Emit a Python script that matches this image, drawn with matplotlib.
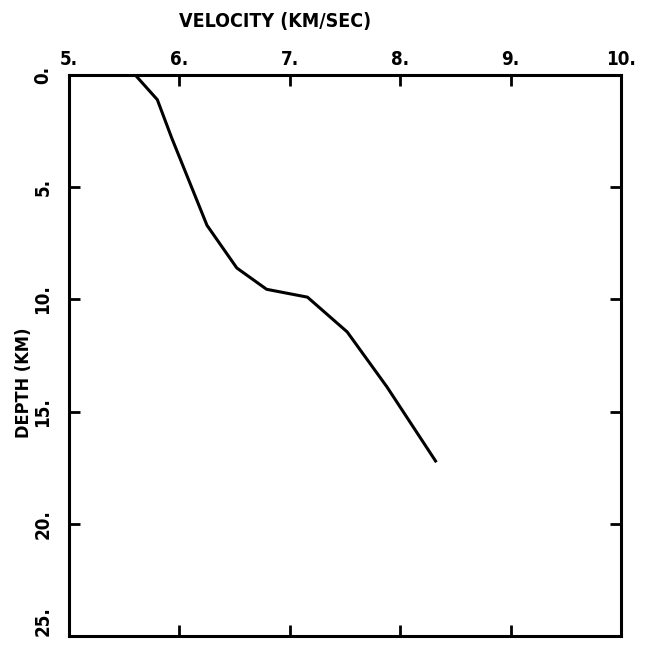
import matplotlib
matplotlib.use("Agg")
import matplotlib.pyplot as plt

velocity = [5.60, 5.80, 5.93, 6.25, 6.52, 6.79, 7.16, 7.52, 7.88, 8.04, 8.32]
depth = [0.0, 1.1, 2.8, 6.7, 8.6, 9.55, 9.9, 11.45, 13.9, 15.1, 17.2]

x_ticks = [5, 6, 7, 8, 9, 10]
x_labels = ["5.", "6.", "7.", "8.", "9.", "10."]
y_ticks = [0, 5, 10, 15, 20, 25]
y_labels = ["0.", "5.", "10.", "15.", "20.", "25."]

font = dict(family="DejaVu Sans", weight="bold", stretch="condensed")

fig = plt.figure(figsize=(6.54, 6.46), dpi=100)
ax = fig.add_axes([69/654, 1 - 636/646, (621-69)/654, (636-75)/646])
ax.plot(velocity, depth, color="black", linewidth=2.2)
ax.set_xlim(5, 10)
ax.set_ylim(25, 0)

for s in ax.spines.values():
    s.set_linewidth(2.2)

ax.xaxis.tick_top()
ax.set_xticks(x_ticks)
ax.set_xticklabels(x_labels, fontsize=13.5, **font)
ax.set_yticks(y_ticks)
ax.set_yticklabels(y_labels, fontsize=13.5, rotation=90, va="center", **font)
ylabs = ax.get_yticklabels()
ylabs[-1].set_va("bottom")
ax.tick_params(axis="both", direction="in", length=8, width=2,
               top=True, bottom=True, left=True, right=True)
ax.tick_params(axis="x", labelbottom=False, labeltop=True, pad=4)
ax.tick_params(axis="y", pad=12)

fig.text(275/654, 1 - 22/646, "VELOCITY (KM/SEC)", ha="center", va="center",
         fontsize=14, **font)
fig.text(24/654, 1 - 383/646, "DEPTH (KM)", ha="center", va="center",
         rotation=90, fontsize=13, **font)

fig.savefig("out.png", dpi=100)
